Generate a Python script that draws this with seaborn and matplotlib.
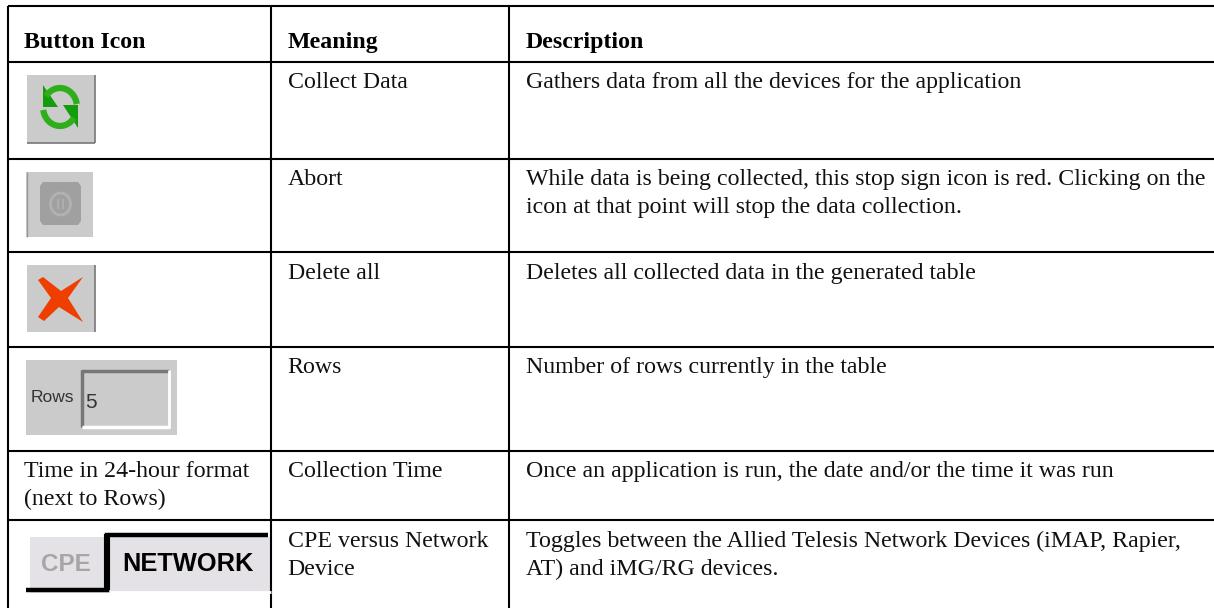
import matplotlib
matplotlib.use("Agg")
import matplotlib.pyplot as plt
import numpy as np
import seaborn as sns
from matplotlib.patches import Polygon, Rectangle

headers = ["Button Icon", "Meaning", "Description"]
meanings = [["Collect Data"], ["Abort"], ["Delete all"], ["Rows"],
            ["Collection Time"], ["CPE versus Network", "Device"]]
descriptions = [
    ["Gathers data from all the devices for the application"],
    ["While data is being collected, this stop sign icon is red. Clicking on the",
     "icon at that point will stop the data collection."],
    ["Deletes all collected data in the generated table"],
    ["Number of rows currently in the table"],
    ["Once an application is run, the date and/or the time it was run"],
    ["Toggles between the Allied Telesis Network Devices (iMAP, Rapier,",
     "AT) and iMG/RG devices."],
]
time_label = ["Time in 24-hour format", "(next to Rows)"]

# layout in pixels
col_x = [7.5, 271, 509]
row_y = [5.5, 61.5, 158.5, 251.7, 346.7, 450.7, 520]
baselines = [88, 185, 279, 373, 477, 547]
LINE = 28
FS = 17.2

sns.set_theme(style="white")
plt.rcParams["font.family"] = ["Liberation Serif", "DejaVu Serif"]

fig = plt.figure(figsize=(12.14, 6.08), dpi=100)
ax = fig.add_axes([0, 0, 1, 1])
ax.set_xlim(0, 1214)
ax.set_ylim(608, 0)
ax.axis("off")

# table rules
ax.hlines(row_y, col_x[0], 1214, color="black", lw=1.5)
ax.vlines(col_x, row_y[0], 608, color="black", lw=1.5)

for x, h in zip([23.7, 287.7, 525.7], headers):
    ax.text(x, 48, h, fontsize=FS, fontweight="bold", color="black", va="baseline")


def cell(x, y, lines):
    for i, s in enumerate(lines):
        ax.text(x, y + i * LINE, s, fontsize=FS, color="#111111", va="baseline")


for base, m, d in zip(baselines, meanings, descriptions):
    cell(287.7, base, m)
    cell(525.7, base, d)
cell(23.7, baselines[4], time_label)


def button(x0, y0, x1, y1):
    ax.add_patch(Rectangle((x0, y0), x1 - x0, y1 - y0, fc="#cbcbcb", ec="none"))


# collect data icon
button(27, 75, 95, 143)
ax.vlines(94.5, 75, 143, color="#777777", lw=1.2)
ax.hlines(142.5, 27, 95, color="#777777", lw=1.2)
t = np.radians(np.arange(215, 352, 8))
ax.plot(60 + 17 * np.cos(t), 107 + 19 * np.sin(t), color="#2fae1c", lw=4.5, solid_capstyle="butt")
t = np.radians(np.arange(35, 172, 8))
ax.plot(60 + 17 * np.cos(t), 107 + 19 * np.sin(t), color="#2fae1c", lw=4.5, solid_capstyle="butt")
ax.add_patch(Polygon([(43, 85), (43, 107), (58, 107)], fc="#139c0c", ec="none"))
ax.add_patch(Polygon([(78, 128), (78, 105), (63, 105)], fc="#139c0c", ec="none"))

# abort icon
button(26, 172, 93, 237)
ax.vlines(26.5, 172, 237, color="#999999", lw=1)
ax.add_patch(Polygon([(43, 182), (78, 182), (81, 186), (81, 221), (78, 225),
                      (43, 225), (40, 221), (40, 186)], fc="#a0a0a0", ec="none"))
t = np.radians(np.arange(0, 365, 10))
ax.plot(60.5 + 10 * np.cos(t), 204 + 11 * np.sin(t), color="#b2b2b2", lw=2)
ax.vlines([58, 63], 199, 209, color="#b2b2b2", lw=1.2)

# delete icon
button(27, 265, 95, 332)
ax.vlines(94.5, 265, 332, color="#777777", lw=1.2)
ax.add_patch(Polygon([(38, 280), (43, 277), (61, 291), (83, 277), (68, 298), (83, 322),
                      (59, 307), (44, 321), (38, 317), (51, 298)], fc="#ee3f00", ec="none"))

# rows icon
button(26, 360, 177, 435)
ax.hlines(370.5, 81, 169, color="#777777", lw=2.5)
ax.vlines(82, 370, 427, color="#777777", lw=2.5)
ax.hlines(427, 82, 170, color="white", lw=2.5)
ax.vlines(169, 370, 428, color="white", lw=2)
ax.text(31, 402.5, "Rows", fontsize=12.5, family="Liberation Sans", color="#333333", va="baseline")
ax.text(85, 408, "5", fontsize=15, family="Liberation Sans", color="#333333", va="baseline")

# cpe / network toggle
ax.add_patch(Rectangle((30, 537), 241, 56, fc="#e4e2e6", ec="none"))
ax.hlines(592, 110, 271, color="white", lw=2)
ax.plot([26, 107, 107, 268], [590, 590, 535.2, 535.2], color="black", lw=3.2,
        solid_joinstyle="miter", solid_capstyle="butt")
ax.vlines(107, 534, 590, color="black", lw=4.4)
ax.text(41, 571, "CPE", fontsize=17.5, fontweight="bold", family="Liberation Sans",
        color="#a6a6a6", va="baseline")
ax.text(122, 571, "NETWORK", fontsize=18.3, fontweight="bold", family="Liberation Sans",
        color="black", va="baseline")

fig.savefig("out.png", dpi=100)
